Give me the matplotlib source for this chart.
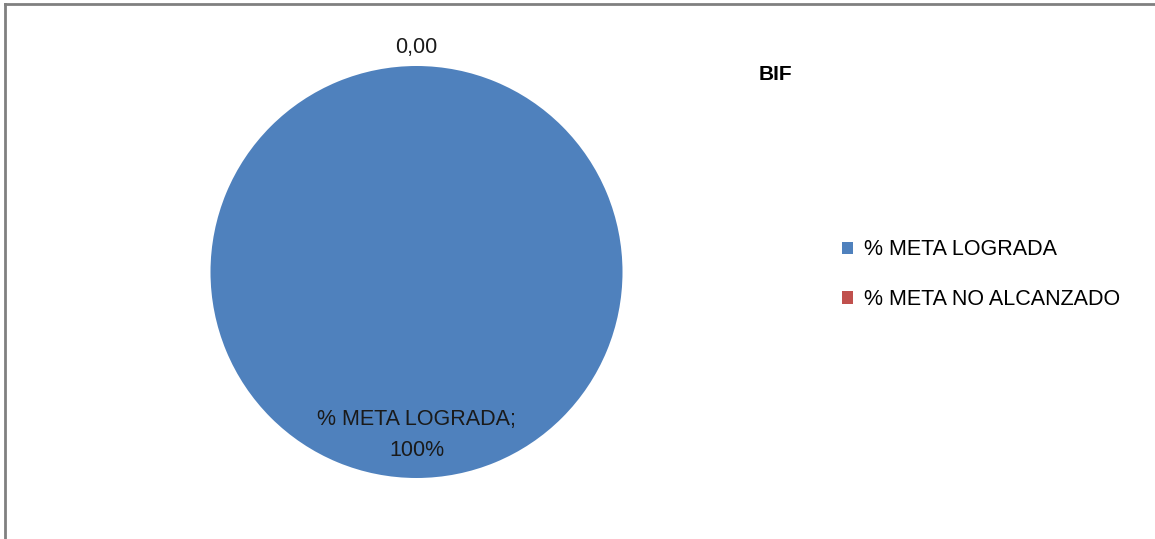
import matplotlib.pyplot as plt
from matplotlib.lines import Line2D

plt.rcParams['font.family'] = ['Liberation Sans', 'DejaVu Sans']

# datos del grafico
categorias = ['% META LOGRADA', '% META NO ALCANZADO']
valores = [100, 0]
colores = ['#4F81BD', '#C0504D']
titulo = 'BIF'

W, H = 1155, 539
fig = plt.figure(figsize=(W / 100, H / 100), dpi=100)

# pie centrado en (416, 272) px con radio 206 px
cx, cy, r, k = 416.5, 272, 206, 1.25
ax = fig.add_axes([(cx - r * k) / W, (H - cy - r * k) / H, 2 * r * k / W, 2 * r * k / H])
wedges, _ = ax.pie(valores, colors=colores, startangle=90, counterclock=False,
                   radius=1, wedgeprops={'linewidth': 0})
ax.set_xlim(-k, k)
ax.set_ylim(-k, k)
ax.set_aspect('equal')
ax.axis('off')

# etiquetas de datos
ax.text(0, 1.09, '0,00', ha='center', va='center', fontsize=15.5, color='#1a1a1a')
ax.text(0, -0.79, categorias[0] + ';\n' + str(valores[0]) + '%', ha='center', va='center',
        fontsize=15.5, linespacing=1.65, color='#1a1a1a')

fig.text(775 / W, 1 - 75 / H, titulo, ha='center', va='center', fontsize=15, fontweight='bold')

leg = fig.legend(wedges, categorias, loc='upper left', bbox_to_anchor=(823 / W, 1 - 220 / H),
                 frameon=False, fontsize=15.5, handlelength=0.5, handleheight=0.5,
                 handletextpad=0.5, labelspacing=1.33)

# marco gris
fig.add_artist(Line2D([5 / W, 1], [1 - 4 / H, 1 - 4 / H], color='#808080', lw=2))
fig.add_artist(Line2D([5 / W, 5 / W], [0, 1 - 4 / H], color='#808080', lw=2))

fig.savefig('out.png', dpi=100)
